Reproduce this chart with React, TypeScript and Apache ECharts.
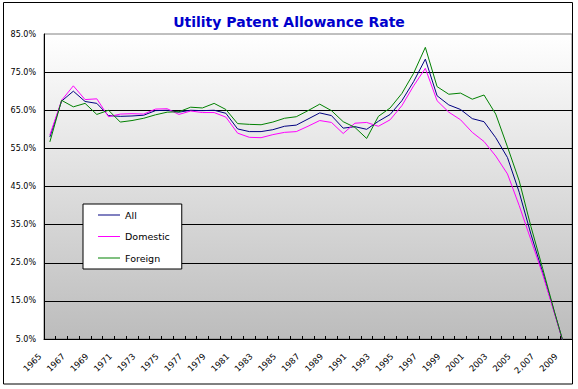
import { useEffect, useRef } from 'react';
import * as echarts from 'echarts';

const years = [
  '1965', '1966', '1967', '1968', '1969', '1970', '1971', '1972', '1973', '1974',
  '1975', '1976', '1977', '1978', '1979', '1980', '1981', '1982', '1983', '1984',
  '1985', '1986', '1987', '1988', '1989', '1990', '1991', '1992', '1993', '1994',
  '1995', '1996', '1997', '1998', '1999', '2000', '2001', '2002', '2003', '2004',
  '2005', '2006', '2,007', '2008', '2009',
];

const allRate = [
  58.0, 67.4, 70.0, 67.3, 66.8, 63.6, 63.4, 63.5, 63.7, 64.9,
  65.0, 64.5, 65.0, 64.9, 65.0, 64.2, 60.1, 59.4, 59.4, 59.9,
  60.8, 61.1, 62.7, 64.3, 63.6, 60.3, 60.7, 60.0, 62.1, 63.9,
  67.5, 72.5, 78.4, 68.8, 66.4, 65.2, 62.8, 62.0, 57.8, 52.6,
  43.5, 32.5, 22.5, 12.0, 1.5,
];

const domesticRate = [
  58.5, 67.6, 71.4, 67.8, 68.0, 63.3, 64.0, 64.1, 64.0, 65.3,
  65.4, 63.9, 64.8, 64.4, 64.4, 63.2, 59.0, 57.9, 57.8, 58.6,
  59.2, 59.4, 60.8, 62.3, 61.8, 58.9, 61.6, 61.8, 60.8, 62.5,
  66.2, 71.4, 76.0, 67.5, 64.5, 62.5, 59.2, 56.8, 53.0, 48.3,
  40.0, 31.0, 22.0, 11.8, 1.5,
];

const foreignRate = [
  56.7, 67.6, 65.9, 66.8, 63.9, 65.0, 61.9, 62.3, 62.9, 63.8,
  64.5, 64.6, 65.8, 65.6, 66.8, 65.2, 61.5, 61.3, 61.2, 61.9,
  62.9, 63.3, 64.9, 66.6, 64.9, 62.0, 60.5, 57.6, 63.4, 65.6,
  69.4, 74.7, 81.5, 71.2, 69.2, 69.5, 67.9, 69.0, 64.0, 55.4,
  46.5, 34.5, 23.5, 12.2, 1.5,
];

const yTicks = [5, 15, 25, 35, 45, 55, 65, 75, 85];

export default function App() {
  const ref = useRef<HTMLDivElement>(null);

  useEffect(() => {
    const chart = echarts.init(ref.current!, null, { renderer: 'svg' });
    chart.setOption({
      animation: false,
      backgroundColor: '#ffffff',
      title: {
        text: 'Utility Patent Allowance Rate',
        left: 'center',
        top: 10,
        textStyle: {
          fontFamily: 'DejaVu Sans',
          fontWeight: 'bold',
          fontSize: 14,
          color: '#0000CC',
        },
      },
      legend: {
        orient: 'vertical',
        left: 83,
        top: 204,
        padding: [6, 12, 6, 15],
        itemGap: 11.5,
        itemWidth: 22,
        itemHeight: 10,
        icon: 'path://M0,0h22v1h-22z',
        backgroundColor: '#ffffff',
        borderColor: '#000000',
        borderWidth: 1,
        borderRadius: 0,
        textStyle: { fontFamily: 'DejaVu Sans', fontSize: 9.5, color: '#000' },
        data: ['All', 'Domestic', 'Foreign'],
      },
      grid: {
        left: 44,
        top: 34,
        right: 6,
        bottom: 50,
        show: true,
        borderColor: '#808080',
        borderWidth: 1,
        backgroundColor: new echarts.graphic.LinearGradient(0, 0, 0, 1, [
          { offset: 0, color: '#ffffff' },
          { offset: 1, color: '#bcbcbc' },
        ]),
      },
      xAxis: {
        type: 'category',
        data: years,
        boundaryGap: true,
        axisLine: { show: true, lineStyle: { color: '#000', width: 1 } },
        axisTick: { show: true, inside: true, length: 3, interval: 0, lineStyle: { color: '#000' } },
        axisLabel: {
          interval: 1,
          rotate: 45,
          margin: 6,
          padding: [0, 14, 0, 0],
          fontFamily: 'DejaVu Sans',
          fontSize: 8.5,
          color: '#000',
        },
        splitLine: { show: false },
      },
      yAxis: {
        type: 'value',
        min: 5,
        max: 85,
        axisLine: { show: true, lineStyle: { color: '#000', width: 1 } },
        axisTick: { show: false, customValues: yTicks },
        axisLabel: {
          customValues: yTicks,
          formatter: (v: number) => v.toFixed(1) + '%',
          fontFamily: 'DejaVu Sans',
          fontSize: 8,
          color: '#000',
          margin: 8,
        },
        splitLine: { show: true, showMinLine: false, showMaxLine: false, lineStyle: { color: '#000', width: 1 } },
      },
      series: [
        {
          name: 'All',
          type: 'line',
          data: allRate,
          symbol: 'none',
          lineStyle: { color: '#000080', width: 1 },
          itemStyle: { color: '#000080' },
        },
        {
          name: 'Domestic',
          type: 'line',
          data: domesticRate,
          symbol: 'none',
          lineStyle: { color: '#FF00FF', width: 1 },
          itemStyle: { color: '#FF00FF' },
        },
        {
          name: 'Foreign',
          type: 'line',
          data: foreignRate,
          symbol: 'none',
          lineStyle: { color: '#008000', width: 1 },
          itemStyle: { color: '#008000' },
        },
      ],
      graphic: [
        {
          type: 'rect',
          silent: true,
          shape: { x: 3.5, y: 2.5, width: 569, height: 381.5 },
          style: { fill: 'none', stroke: '#000', lineWidth: 1 },
        },
      ],
    });
    return () => chart.dispose();
  }, []);

  return (
    <div
      ref={ref}
      style={{ position: 'fixed', left: 0, top: 0, width: 578, height: 389, background: '#fff' }}
    />
  );
}
